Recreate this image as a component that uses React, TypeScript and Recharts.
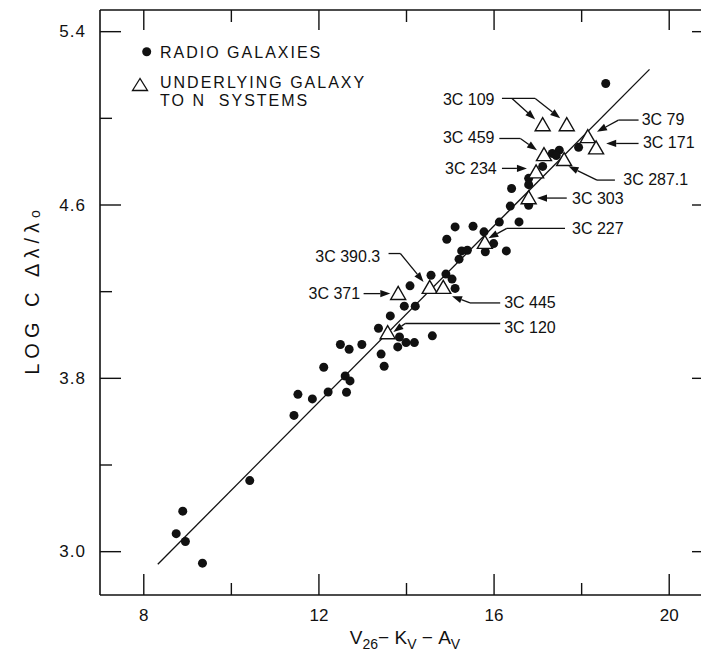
import React from 'react';
import { ScatterChart, Scatter, XAxis, YAxis, ReferenceLine, ReferenceDot, Legend } from 'recharts';

const FONT = '"Liberation Sans", Arial, Helvetica, sans-serif';
const INK = '#111';

// Radio galaxies (filled dots)
const radioGalaxyX = [
  13.49, 12.11, 12.60, 12.71, 11.52, 11.85, 12.21, 12.63, 11.43, 10.42,
  8.89, 8.74, 8.95, 9.34, 12.49, 12.69, 12.98, 13.42, 13.80, 13.99,
  14.18, 13.84, 14.59, 13.36, 13.63, 13.95, 14.20, 14.08, 14.56, 14.90,
  15.04, 15.11, 15.20, 15.26, 15.39, 14.92, 15.11, 15.52, 15.77, 15.99,
  15.80, 16.28, 16.12, 16.57, 16.37, 16.79, 18.55, 17.93, 17.33, 17.49,
  17.42, 17.11, 16.79, 16.79, 16.40,
];
const radioGalaxyY = [
  3.856, 3.851, 3.811, 3.788, 3.726, 3.705, 3.737, 3.736, 3.629, 3.328,
  3.187, 3.083, 3.047, 2.947, 3.956, 3.934, 3.956, 3.912, 3.945, 3.965,
  3.965, 3.991, 3.996, 4.031, 4.088, 4.133, 4.133, 4.227, 4.276, 4.281,
  4.258, 4.215, 4.350, 4.388, 4.391, 4.442, 4.499, 4.502, 4.476, 4.422,
  4.384, 4.388, 4.521, 4.522, 4.595, 4.599, 5.161, 4.866, 4.838, 4.853,
  4.828, 4.778, 4.723, 4.694, 4.676,
];

// Underlying galaxies of N systems (open triangles)
const underlyingNames = [
  '3C 109', '3C 109', '3C 79', '3C 171', '3C 459', '3C 287.1', '3C 234',
  '3C 303', '3C 227', '3C 390.3', '3C 445', '3C 371', '3C 120',
];
const underlyingX = [17.11, 17.66, 18.14, 18.33, 17.14, 17.60, 16.96, 16.79, 15.79, 14.53, 14.84, 13.81, 13.57];
const underlyingY = [4.973, 4.973, 4.918, 4.866, 4.835, 4.812, 4.755, 4.636, 4.430, 4.222, 4.222, 4.194, 4.013];

// Fitted relation
const fitLineX = [8.32, 19.55];
const fitLineY = [2.942, 5.226];

// Ticks
const xTicks = [8, 10, 12, 14, 16, 18, 20];
const xTickLabels = [8, 12, 16, 20];
const yTicks = [3.0, 3.4, 3.8, 4.2, 4.6, 5.0, 5.4];
const yTickLabels = [3.0, 3.8, 4.6, 5.4];

// Annotation labels
const annotationText = ['3C 109', '3C 79', '3C 171', '3C 459', '3C 234', '3C 287.1', '3C 303', '3C 227', '3C 390.3', '3C 371', '3C 445', '3C 120'];
const annotationTextX = [16.01, 19.37, 19.40, 16.01, 16.06, 18.95, 17.78, 17.78, 13.40, 12.94, 16.23, 16.23];
const annotationTextY = [5.088, 4.995, 4.887, 4.912, 4.769, 4.719, 4.630, 4.492, 4.364, 4.191, 4.148, 4.033];
const annotationAnchor = ['end', 'start', 'start', 'end', 'end', 'start', 'start', 'start', 'end', 'end', 'start', 'start'];

// Leader lines (arrow at the last point)
const leaderPaths: number[][][] = [
  [[16.18, 5.092], [16.94, 5.092], [17.51, 5.0]],
  [[16.41, 5.092], [16.94, 4.995]],
  [[19.30, 4.992], [18.84, 4.992], [18.35, 4.938]],
  [[19.30, 4.884], [18.56, 4.884]],
  [[16.12, 4.907], [16.60, 4.907], [16.98, 4.853]],
  [[16.18, 4.769], [16.75, 4.769]],
  [[18.76, 4.715], [18.35, 4.715], [17.70, 4.779]],
  [[17.66, 4.632], [16.98, 4.632]],
  [[17.62, 4.492], [16.29, 4.492], [15.87, 4.446]],
  [[13.59, 4.376], [13.86, 4.376], [14.39, 4.245]],
  [[13.02, 4.191], [13.63, 4.191]],
  [[16.14, 4.148], [15.45, 4.148], [15.04, 4.179]],
  [[16.14, 4.053], [13.97, 4.053], [13.70, 4.014]],
];

const radioData = radioGalaxyX.map((x, i) => ({ x, y: radioGalaxyY[i] }));
const underlyingData = underlyingX.map((x, i) => ({ x, y: underlyingY[i], name: underlyingNames[i] }));

const isIn = (arr: number[], v: number) => arr.some((a) => Math.abs(a - v) < 1e-6);

const DotShape = (p: any) => <circle cx={p.cx} cy={p.cy} r={4.5} fill={INK} />;
const TriShape = (p: any) => (
  <polygon
    points={`${p.cx},${p.cy - 6.5} ${p.cx - 7.5},${p.cy + 6.5} ${p.cx + 7.5},${p.cy + 6.5}`}
    fill="#fff"
    stroke={INK}
    strokeWidth={1.4}
    strokeLinejoin="miter"
  />
);

const BottomTick = (props: any) => {
  const { x, y, payload } = props;
  const major = isIn(xTickLabels, payload.value);
  return (
    <g>
      <line x1={x} x2={x} y1={y} y2={y - (major ? 21 : 12)} stroke={INK} strokeWidth={1.4} />
      {major && (
        <text x={x} y={y + 20} textAnchor="middle" dominantBaseline="central" fontFamily={FONT} fontSize={17} fill={INK}>
          {payload.value}
        </text>
      )}
    </g>
  );
};

const TopTick = (props: any) => {
  const { x, y, payload } = props;
  const major = isIn(xTickLabels, payload.value);
  return <line x1={x} x2={x} y1={y} y2={y + (major ? 20 : 12)} stroke={INK} strokeWidth={1.4} />;
};

const LeftTick = (props: any) => {
  const { x, y, payload } = props;
  const major = isIn(yTickLabels, payload.value);
  return (
    <g>
      <line x1={x} x2={x + (major ? 21 : 12)} y1={y} y2={y} stroke={INK} strokeWidth={1.4} />
      {major && (
        <text x={x - 14} y={y} textAnchor="end" dominantBaseline="central" fontFamily={FONT} fontSize={17} letterSpacing={1} fill={INK}>
          {Number(payload.value).toFixed(1)}
        </text>
      )}
    </g>
  );
};

const RightTick = (props: any) => {
  const { x, y, payload } = props;
  const major = isIn(yTickLabels, payload.value);
  return <line x1={x} x2={x - (major ? 21 : 12)} y1={y} y2={y} stroke={INK} strokeWidth={1.4} />;
};

const makeSegShape = (arrow: boolean) => (p: any) => {
  const { x1, y1, x2, y2 } = p;
  if ([x1, y1, x2, y2].some((v) => typeof v !== 'number' || isNaN(v))) return <g />;
  if (!arrow) return <line x1={x1} y1={y1} x2={x2} y2={y2} stroke={INK} strokeWidth={1.3} />;
  const dx = x2 - x1;
  const dy = y2 - y1;
  const len = Math.sqrt(dx * dx + dy * dy) || 1;
  const ux = dx / len;
  const uy = dy / len;
  const hl = 10;
  const hw = 3.6;
  const bx = x2 - ux * hl;
  const by = y2 - uy * hl;
  const nx = -uy;
  const ny = ux;
  return (
    <g>
      <line x1={x1} y1={y1} x2={bx} y2={by} stroke={INK} strokeWidth={1.3} />
      <polygon points={`${x2},${y2} ${bx + nx * hw},${by + ny * hw} ${bx - nx * hw},${by - ny * hw}`} fill={INK} />
    </g>
  );
};

const LegendBox = () => (
  <svg width={260} height={75} style={{ display: 'block', overflow: 'visible' }}>
    <circle cx={16.7} cy={13.7} r={4.5} fill={INK} />
    <text x={30} y={14} dominantBaseline="central" fontFamily={FONT} fontSize={16} letterSpacing={2} fill={INK}>
      RADIO GALAXIES
    </text>
    <polygon points="10,40.5 2.5,52.5 17.5,52.5" fill="#fff" stroke={INK} strokeWidth={1.3} />
    <text x={30} y={44} dominantBaseline="central" fontFamily={FONT} fontSize={16} letterSpacing={2} fill={INK}>
      UNDERLYING GALAXY
    </text>
    <text x={30} y={62} dominantBaseline="central" fontFamily={FONT} fontSize={16} letterSpacing={2} fill={INK}>
      {'TO N\u00a0 SYSTEMS'}
    </text>
  </svg>
);

const YTitle = () => {
  const cx = 24;
  const cy = 282;
  return (
    <text
      x={cx}
      y={cy}
      transform={`rotate(-90 ${cx} ${cy})`}
      textAnchor="middle"
      dominantBaseline="central"
      fontFamily={FONT}
      fontSize={20}
      letterSpacing={5}
      fill={INK}
    >
      {'LOG C \u0394\u03bb/\u03bb'}
      <tspan fontSize={14} dy={3}>o</tspan>
    </text>
  );
};

const XTitle = () => (
  <text x={397} y={636} textAnchor="middle" fontFamily={FONT} fontSize={19} fill={INK}>
    V
    <tspan fontSize={14} dy={5}>26</tspan>
    <tspan dy={-5}>{'\u2212\u00a0K'}</tspan>
    <tspan fontSize={14} dy={5}>V</tspan>
    <tspan dy={-5}>{'\u00a0\u2212\u00a0A'}</tspan>
    <tspan fontSize={14} dy={5}>V</tspan>
  </text>
);

export default function App() {
  const segments: { a: number[]; b: number[]; arrow: boolean }[] = [];
  leaderPaths.forEach((path) => {
    for (let i = 0; i < path.length - 1; i++) {
      segments.push({ a: path[i], b: path[i + 1], arrow: i === path.length - 2 });
    }
  });

  return (
    <div
      style={{
        position: 'absolute',
        left: 8,
        top: 8,
        width: 693,
        maxWidth: 'none',
        height: 645,
        overflow: 'hidden',
        background: '#fff',
      }}
    >
      <ScatterChart width={730} height={645} margin={{ top: 1, right: 0, bottom: 0, left: 0 }}>
        <XAxis
          dataKey="x"
          type="number"
          domain={[7, 21]}
          ticks={xTicks}
          interval={0}
          allowDataOverflow
          height={58}
          tickSize={0}
          tickMargin={0}
          tickLine={false}
          tick={BottomTick}
          axisLine={{ stroke: INK, strokeWidth: 1.6 }}
          label={{ content: () => <XTitle /> }}
        />
        <XAxis
          xAxisId="top"
          orientation="top"
          dataKey="x"
          type="number"
          domain={[7, 21]}
          ticks={xTicks}
          interval={0}
          allowDataOverflow
          height={1}
          tickSize={0}
          tickMargin={0}
          tickLine={false}
          tick={TopTick}
          axisLine={{ stroke: INK, strokeWidth: 1.6 }}
        />
        <YAxis
          dataKey="y"
          type="number"
          domain={[2.8, 5.5]}
          ticks={yTicks}
          interval={0}
          allowDataOverflow
          width={92}
          tickSize={0}
          tickMargin={0}
          tickLine={false}
          tick={LeftTick}
          axisLine={{ stroke: INK, strokeWidth: 1.6 }}
          label={{ content: () => <YTitle /> }}
        />
        <YAxis
          yAxisId="right"
          orientation="right"
          dataKey="y"
          type="number"
          domain={[2.8, 5.5]}
          ticks={yTicks}
          interval={0}
          allowDataOverflow
          width={25}
          tickSize={0}
          tickMargin={0}
          tickLine={false}
          tick={RightTick}
          axisLine={{ stroke: INK, strokeWidth: 1.6 }}
        />
        <Scatter name="RADIO GALAXIES" data={radioData} shape={DotShape} isAnimationActive={false} />
        <Scatter
          name="UNDERLYING GALAXY TO N SYSTEMS"
          data={underlyingData}
          xAxisId="top"
          yAxisId="right"
          shape={TriShape}
          isAnimationActive={false}
        />
        <ReferenceLine
          segment={[
            { x: fitLineX[0], y: fitLineY[0] },
            { x: fitLineX[1], y: fitLineY[1] },
          ]}
          ifOverflow="visible"
          stroke={INK}
          strokeWidth={1.3}
        />
        {segments.map((s, i) => (
          <ReferenceLine
            key={'seg' + i}
            segment={[
              { x: s.a[0], y: s.a[1] },
              { x: s.b[0], y: s.b[1] },
            ]}
            ifOverflow="visible"
            stroke={INK}
            shape={makeSegShape(s.arrow)}
          />
        ))}
        {annotationText.map((t, i) => (
          <ReferenceDot
            key={'lab' + i}
            x={annotationTextX[i]}
            y={annotationTextY[i]}
            r={0}
            ifOverflow="visible"
            shape={(p: any) => (
              <text
                x={p.cx}
                y={p.cy}
                textAnchor={annotationAnchor[i] as any}
                dominantBaseline="central"
                fontFamily={FONT}
                fontSize={16}
                fill={INK}
              >
                {t}
              </text>
            )}
          />
        ))}
        <Legend
          layout="horizontal"
          verticalAlign="middle"
          align="center"
          wrapperStyle={{ left: 122, top: 30, width: 260, height: 75 }}
          content={() => <LegendBox />}
        />
      </ScatterChart>
    </div>
  );
}
